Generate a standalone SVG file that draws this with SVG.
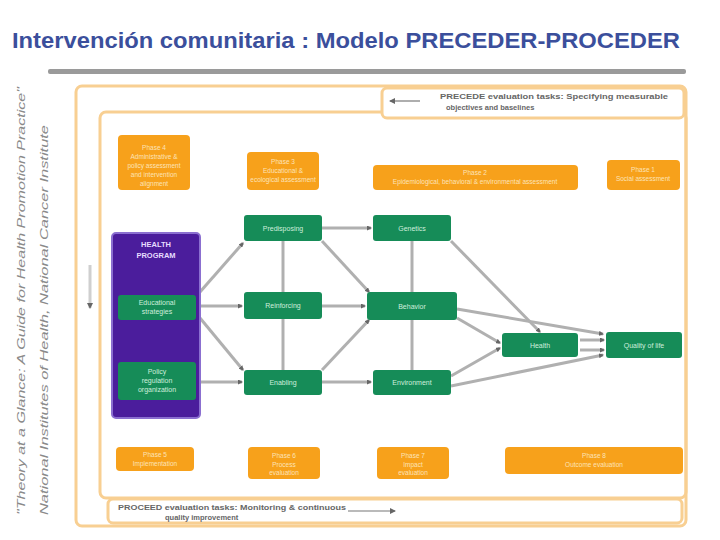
<svg xmlns="http://www.w3.org/2000/svg" width="720" height="540" viewBox="0 0 720 540">
<defs>
<style>
.title{font-family:"Liberation Sans",Arial,sans-serif;font-weight:bold;font-size:22px;fill:#3b4f9c}
.side{font-family:"Liberation Sans",Arial,sans-serif;font-style:italic;font-size:10px;fill:#8a8a8a}
.frame{fill:none;stroke:#f8cf92;stroke-width:3}
.band{fill:#ffffff;stroke:#f8cf92;stroke-width:3}
.note{font-family:"Liberation Sans",Arial,sans-serif;font-weight:bold;font-size:7.5px;fill:#666}
.ph{fill:#f7a11b}
.pht{font-family:"Liberation Sans",Arial,sans-serif;font-size:6.5px;fill:#fde3b8;text-anchor:middle}
.gn{fill:#168c58}
.gnt{font-family:"Liberation Sans",Arial,sans-serif;font-size:7px;fill:#cfeedd;text-anchor:middle}
.pp{fill:#4b1d9c;stroke:#8b6fd0;stroke-width:2}
.ppt{font-family:"Liberation Sans",Arial,sans-serif;font-weight:bold;font-size:7.5px;fill:#e6dcff;text-anchor:middle}
.c{stroke:#b0b0b0;stroke-width:3;fill:none;marker-end:url(#ah)}
.c2{stroke:#b0b0b0;stroke-width:3;fill:none}
.pl{stroke:#c6a6e6;stroke-width:2;fill:none;marker-end:url(#ahp)}
.ar{stroke:#777;stroke-width:1.2;fill:none;marker-end:url(#ah2)}
</style>
<marker id="ah" markerWidth="5" markerHeight="5" refX="4" refY="2.5" orient="auto" markerUnits="userSpaceOnUse"><path d="M0,0 L5,2.5 L0,5 Z" fill="#666"/></marker>
<marker id="ahp" markerWidth="5" markerHeight="5" refX="4" refY="2.5" orient="auto" markerUnits="userSpaceOnUse"><path d="M0,0 L5,2.5 L0,5 Z" fill="#d8c2f0"/></marker>
<marker id="ah2" markerWidth="6" markerHeight="6" refX="5" refY="3" orient="auto" markerUnits="userSpaceOnUse"><path d="M0,0 L6,3 L0,6 Z" fill="#666"/></marker>
</defs>
<rect width="720" height="540" fill="#ffffff"/>
<text class="title" x="12" y="48" textLength="668" lengthAdjust="spacingAndGlyphs">Intervención comunitaria : Modelo PRECEDER-PROCEDER</text>
<rect x="48" y="69" width="638" height="5" rx="2" fill="#9a9a9a"/>
<text class="side" transform="translate(25,515) rotate(-90)" textLength="428" lengthAdjust="spacingAndGlyphs">"Theory at a Glance: A Guide for Health Promotion Practice"</text>
<text class="side" transform="translate(48,515) rotate(-90)" textLength="390" lengthAdjust="spacingAndGlyphs">National Institutes of Health, National Cancer Institute</text>

<g id="frames">
<rect class="frame" x="76" y="86" width="610" height="440" rx="6"/>
<rect class="frame" x="100" y="112" width="586" height="386" rx="6"/>
</g>
<g id="precede-tasks">
<rect class="band" x="382" y="88" width="302" height="30" rx="5"/>
<line class="ar" x1="420" y1="101" x2="390" y2="101"/>
<text class="note" x="440" y="99" textLength="228" lengthAdjust="spacingAndGlyphs">PRECEDE evaluation tasks: Specifying measurable</text>
<text class="note" x="446" y="110">objectives and baselines</text>
</g>
<g id="proceed-tasks">
<rect class="band" x="108" y="499" width="574" height="24" rx="5"/>
<text class="note" x="118" y="510" textLength="228" lengthAdjust="spacingAndGlyphs">PROCEED evaluation tasks: Monitoring &amp; continuous</text>
<text class="note" x="165" y="520">quality improvement</text>
<line class="ar" x1="348" y1="511" x2="395" y2="511"/>
</g>
<line x1="90" y1="265" x2="90" y2="308" stroke="#cfcfcf" stroke-width="3" marker-end="url(#ah2)"/>

<g id="connectors">
<path class="pl" d="M157,320 L157,360"/>
<path class="c" d="M200,292 L243,243"/>
<path class="c" d="M200,306 L242,306"/>
<path class="c" d="M200,318 L243,370"/>
<path class="c" d="M200,382 L242,382"/>
<path class="c2" d="M283,241 L283,292"/>
<path class="c2" d="M283,319 L283,370"/>
<path class="c" d="M322,228 L371,228"/>
<path class="c" d="M322,306 L365,306"/>
<path class="c" d="M322,382 L371,382"/>
<path class="c" d="M322,241 L369,292"/>
<path class="c" d="M322,370 L369,320"/>
<path class="c2" d="M412,241 L412,292"/>
<path class="c2" d="M412,320 L412,370"/>
<path class="c" d="M451,241 L540,332"/>
<path class="c" d="M457,309 L603,334"/>
<path class="c" d="M457,318 L500,343"/>
<path class="c" d="M451,376 L500,348"/>
<path class="c" d="M451,386 L603,355"/>
<path class="c" d="M580,340 L604,340"/>
<path class="c" d="M580,350 L604,350"/>
</g>

<g id="phase4"><rect class="ph" x="118" y="135" width="72" height="55" rx="4"/>
<text class="pht" x="154" y="150">Phase 4</text><text class="pht" x="154" y="159">Administrative &amp;</text><text class="pht" x="154" y="168">policy assessment</text><text class="pht" x="154" y="177">and intervention</text><text class="pht" x="154" y="186">alignment</text></g>
<g id="phase3"><rect class="ph" x="247" y="152" width="72" height="38" rx="4"/>
<text class="pht" x="283" y="164">Phase 3</text><text class="pht" x="283" y="173">Educational &amp;</text><text class="pht" x="283" y="182">ecological assessment</text></g>
<g id="phase2"><rect class="ph" x="373" y="165" width="205" height="25" rx="4"/>
<text class="pht" x="475" y="175">Phase 2</text><text class="pht" x="475" y="184">Epidemiological, behavioral &amp; environmental assessment</text></g>
<g id="phase1"><rect class="ph" x="607" y="160" width="73" height="30" rx="4"/>
<text class="pht" x="643" y="172">Phase 1</text><text class="pht" x="643" y="181">Social assessment</text></g>
<g id="phase5"><rect class="ph" x="116" y="447" width="78" height="24" rx="4"/>
<text class="pht" x="155" y="457">Phase 5</text><text class="pht" x="155" y="466">Implementation</text></g>
<g id="phase6"><rect class="ph" x="248" y="447" width="72" height="32" rx="4"/>
<text class="pht" x="284" y="458">Phase 6</text><text class="pht" x="284" y="467">Process</text><text class="pht" x="284" y="475">evaluation</text></g>
<g id="phase7"><rect class="ph" x="377" y="447" width="72" height="32" rx="4"/>
<text class="pht" x="413" y="458">Phase 7</text><text class="pht" x="413" y="467">Impact</text><text class="pht" x="413" y="475">evaluation</text></g>
<g id="phase8"><rect class="ph" x="505" y="447" width="178" height="27" rx="4"/>
<text class="pht" x="594" y="458">Phase 8</text><text class="pht" x="594" y="467">Outcome evaluation</text></g>

<g id="program"><rect class="pp" x="112" y="233" width="88" height="185" rx="4"/>
<text class="ppt" x="156" y="247">HEALTH</text><text class="ppt" x="156" y="258">PROGRAM</text></g>
<g id="educational"><rect class="gn" x="118" y="295" width="78" height="25" rx="3"/>
<text class="gnt" x="157" y="305">Educational</text><text class="gnt" x="157" y="314">strategies</text></g>
<g id="policy"><rect class="gn" x="118" y="362" width="78" height="38" rx="3"/>
<text class="gnt" x="157" y="374">Policy</text><text class="gnt" x="157" y="383">regulation</text><text class="gnt" x="157" y="392">organization</text></g>

<g id="predisposing"><rect class="gn" x="244" y="215" width="78" height="26" rx="3"/><text class="gnt" x="283" y="231">Predisposing</text></g>
<g id="reinforcing"><rect class="gn" x="244" y="292" width="78" height="27" rx="3"/><text class="gnt" x="283" y="308">Reinforcing</text></g>
<g id="enabling"><rect class="gn" x="244" y="370" width="78" height="25" rx="3"/><text class="gnt" x="283" y="385">Enabling</text></g>
<g id="genetics"><rect class="gn" x="373" y="215" width="78" height="26" rx="3"/><text class="gnt" x="412" y="231">Genetics</text></g>
<g id="behavior"><rect class="gn" x="367" y="292" width="90" height="28" rx="3"/><text class="gnt" x="412" y="309">Behavior</text></g>
<g id="environment"><rect class="gn" x="373" y="370" width="78" height="25" rx="3"/><text class="gnt" x="412" y="385">Environment</text></g>
<g id="health"><rect class="gn" x="502" y="333" width="76" height="24" rx="3"/><text class="gnt" x="540" y="348">Health</text></g>
<g id="quality"><rect class="gn" x="606" y="332" width="76" height="26" rx="3"/><text class="gnt" x="644" y="348">Quality of life</text></g>
</svg>
